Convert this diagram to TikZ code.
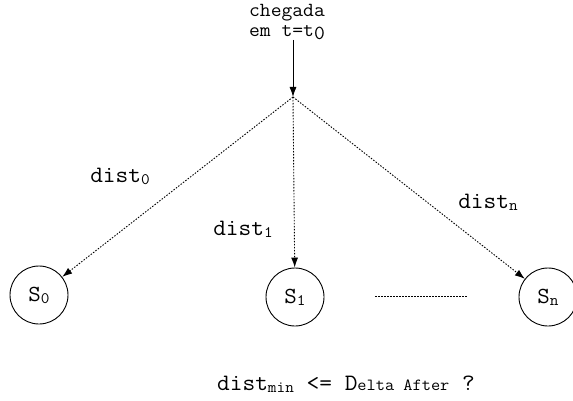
\documentclass[tikz,border=0pt]{standalone}
\usepackage{fontspec}
\setmonofont[FakeStretch=1.05]{Latin Modern Mono}
\usetikzlibrary{arrows.meta}
\newcommand{\mysub}[1]{\raisebox{-2pt}{\fontsize{16}{16}\selectfont #1}}
\begin{document}
\begin{tikzpicture}[x=1pt,y=-1pt,
  font=\ttfamily,
  state/.style={draw,circle,minimum size=58pt,inner sep=0pt,line width=0.9pt,font=\ttfamily\fontsize{23}{23}\selectfont},
  lbl/.style={font=\ttfamily\fontsize{23.5}{23.5}\selectfont,inner sep=0pt},
  toplbl/.style={font=\ttfamily\fontsize{20}{20}\selectfont,inner sep=0pt,align=center},
  dotarrow/.style={dash pattern=on 1.5pt off 1.5pt,line width=0.9pt,-{Latex[length=10pt,width=7pt]}},
  solidarrow/.style={line width=0.9pt,-{Latex[length=10pt,width=7pt]}}]
\useasboundingbox (0,0) rectangle (573,401);
\node[toplbl] (top) at (287,22) {chegada\\em t=t\raisebox{-3pt}{0}};
\coordinate (branch) at (293,97);
\node[state] (s0) at (39,295) {S\mysub{0}};
\node[state] (s1) at (295,297) {S\mysub{1}};
\node[state] (sn) at (548,297) {S\mysub{n}};
\draw[solidarrow] (top.south -| branch) -- (branch);
\draw[dotarrow] (branch) -- (s0);
\draw[dotarrow] (branch) -- (s1);
\draw[dotarrow] (branch) -- (sn);
\coordinate (dl) at (375,296);
\coordinate (dr) at (467,296);
\draw[dash pattern=on 1.5pt off 1.5pt,line width=0.9pt] (dl) -- (dr);
\node[lbl] (d0) at (120,176) {dist\mysub{0}};
\node[lbl] (d1) at (243,229) {dist\mysub{1}};
\node[lbl] (dn) at (488,202) {dist\mysub{n}};
\node[lbl] (q) at (346,384) {dist\mysub{min} <= D{\fontsize{17}{17}\selectfont elta After} ?};
\end{tikzpicture}
\end{document}
